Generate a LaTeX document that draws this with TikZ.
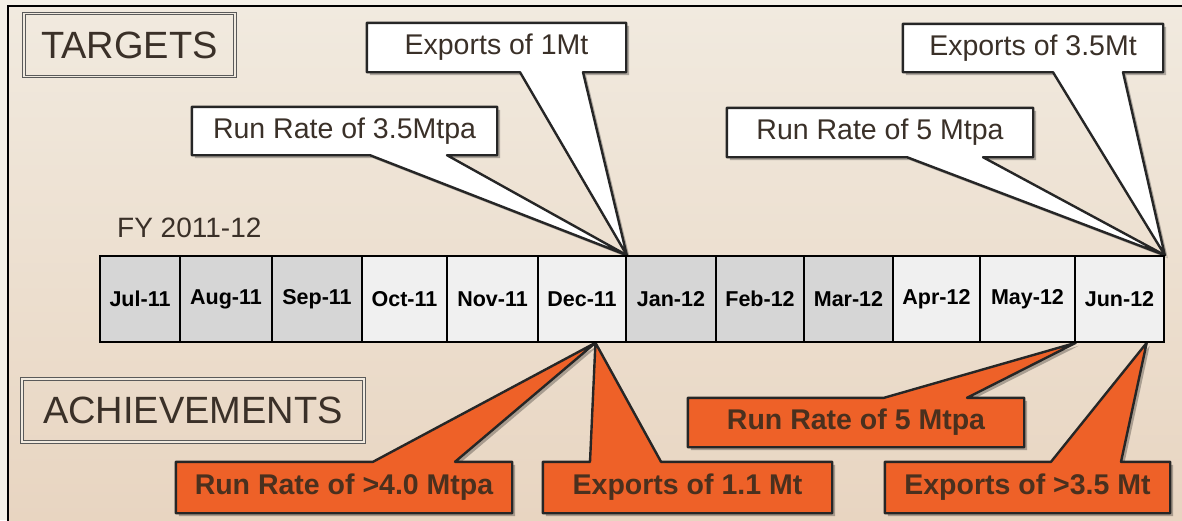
\documentclass[tikz,border=0pt]{standalone}
\usepackage{fontspec}
\setmainfont{Liberation Sans}
\usetikzlibrary{calc}
\pgfdeclarelayer{bgl}\pgfdeclarelayer{shad}\pgfdeclarelayer{callouts}
\pgfsetlayers{bgl,shad,callouts,main}
\definecolor{outerbg}{HTML}{F4F0E7}
\definecolor{bgtop}{HTML}{F1EADF}
\definecolor{bgbot}{HTML}{E8D5C1}
\definecolor{cellgray}{HTML}{D6D6D6}
\definecolor{celllight}{HTML}{F0F0F0}
\definecolor{orangec}{HTML}{EE6128}
\definecolor{txtdark}{HTML}{3A3028}
\definecolor{txtbrown}{HTML}{4A301E}
\definecolor{dblgray}{HTML}{5A5A5A}
\newcommand\topcallout[4]{%
  \begin{pgfonlayer}{shad}
  \begin{scope}[transform canvas={shift={(3pt,-3pt)}}]
  \fill[black,opacity=0.28] (#1.north west) -- (#1.north east) -- (#1.south east) -- (#3,0 |- #1.south) -- (#4) -- (#2,0 |- #1.south) -- (#1.south west) -- cycle;
  \end{scope}
  \end{pgfonlayer}
  \begin{pgfonlayer}{callouts}
  \path[wcall] (#1.north west) -- (#1.north east) -- (#1.south east) -- (#3,0 |- #1.south) -- (#4) -- (#2,0 |- #1.south) -- (#1.south west) -- cycle;
  \end{pgfonlayer}}
\newcommand\botcallout[4]{%
  \begin{pgfonlayer}{shad}
  \begin{scope}[transform canvas={shift={(3pt,-3pt)}}]
  \fill[black,opacity=0.28] (#1.south west) -- (#1.north west) -- (#2,0 |- #1.north) -- (#4) -- (#3,0 |- #1.north) -- (#1.north east) -- (#1.south east) -- cycle;
  \end{scope}
  \end{pgfonlayer}
  \begin{pgfonlayer}{callouts}
  \path[ocall] (#1.south west) -- (#1.north west) -- (#2,0 |- #1.north) -- (#4) -- (#3,0 |- #1.north) -- (#1.north east) -- (#1.south east) -- cycle;
  \end{pgfonlayer}}
\begin{document}
\begin{tikzpicture}[x=1pt,y=-1pt,
  cellbase/.style={draw=black,line width=1.6pt,minimum height=86pt,inner sep=0pt,
    font=\bfseries\fontsize{21.5}{24}\selectfont,text=black},
  cellA/.style={cellbase,fill=cellgray},
  cellB/.style={cellbase,fill=celllight},
  wtext/.style={inner sep=0pt,font=\fontsize{28.5}{31}\selectfont,text=txtdark},
  otext/.style={inner sep=0pt,font=\bfseries\fontsize{28.5}{31}\selectfont,text=txtbrown},
  wcall/.style={fill=white,draw=black!85,line width=2.4pt,line join=round},
  ocall/.style={fill=orangec,draw=black!85,line width=2.4pt,line join=round},
  labelbox/.style={draw=dblgray,line width=1.1pt,double=bgtop,double distance=1.6pt,
    inner sep=0pt,font=\fontsize{38}{40}\selectfont,text=txtdark}]
\useasboundingbox (0,0) rectangle (1182,520);
\begin{pgfonlayer}{bgl}
\fill[outerbg] (0,0) rectangle (1182,520);
\shade[top color=bgtop,bottom color=bgbot] (8,6) rectangle (1182,520);
\draw[line width=2.2pt,black] (8,522) -- (8,6) -- (1184,6);
\end{pgfonlayer}

% heading boxes
\node[labelbox,minimum width=211pt,minimum height=63pt] (tg) at (129.5,45) {TARGETS};
\node[labelbox,minimum width=342pt,minimum height=63pt] (ach) at (193,410.5) {ACHIEVEMENTS};
\node[anchor=base west,inner sep=0pt,font=\fontsize{28}{30}\selectfont,text=txtdark] (fy) at (117,237) {FY 2011-12};

% timeline
\node[cellA,minimum width=80pt] (m1) at (140,299) {Jul-11};
\node[cellA,minimum width=92pt] (m2) at (226,299) {Aug-11};
\node[cellA,minimum width=90pt] (m3) at (317,299) {Sep-11};
\node[cellB,minimum width=85pt] (m4) at (404.5,299) {Oct-11};
\node[cellB,minimum width=91pt] (m5) at (492.5,299) {Nov-11};
\node[cellB,minimum width=88pt] (m6) at (582,299) {Dec-11};
\node[cellA,minimum width=90pt] (m7) at (671,299) {Jan-12};
\node[cellA,minimum width=88pt] (m8) at (760,299) {Feb-12};
\node[cellA,minimum width=89pt] (m9) at (848.5,299) {Mar-12};
\node[cellB,minimum width=87pt] (m10) at (936.5,299) {Apr-12};
\node[cellB,minimum width=95pt] (m11) at (1027.5,299) {May-12};
\node[cellB,minimum width=89pt] (m12) at (1119.5,299) {Jun-12};

\coordinate (tipD) at ($(m6.south west)!0.65!(m6.south east)$);
\coordinate (tipJ) at ($(m12.south west)!0.8!(m12.south east)$);

% target callouts
\node[wtext,minimum width=259pt,minimum height=49pt] (t1) at (496.5,47.5) {Exports of 1Mt};
\node[wtext,minimum width=305pt,minimum height=48pt] (t2) at (344.5,131) {Run Rate of 3.5Mtpa};
\node[wtext,minimum width=260pt,minimum height=48pt] (t3) at (1033,48) {Exports of 3.5Mt};
\node[wtext,minimum width=306pt,minimum height=49pt] (t4) at (880,132.5) {Run Rate of 5 Mtpa};
\topcallout{t1}{520}{583}{m6.north east}
\topcallout{t2}{370}{447}{m6.north east}
\topcallout{t3}{1053}{1123}{m12.north east}
\topcallout{t4}{907}{983}{m12.north east}

% achievement callouts
\node[otext,minimum width=336pt,minimum height=51pt] (a1) at (344,487.5) {Run Rate of >4.0 Mtpa};
\node[otext,minimum width=289pt,minimum height=51pt] (a2) at (687.5,487.5) {Exports of 1.1 Mt};
\node[otext,minimum width=336pt,minimum height=49pt] (a3) at (856,422.5) {Run Rate of 5 Mtpa};
\node[otext,minimum width=285pt,minimum height=51pt] (a4) at (1027.5,487.5) {Exports of >3.5 Mt};
\botcallout{a1}{373}{455}{tipD}
\botcallout{a2}{590}{661}{tipD}
\botcallout{a3}{884}{967}{m11.south east}
\botcallout{a4}{1051}{1121}{tipJ}
\end{tikzpicture}
\end{document}
